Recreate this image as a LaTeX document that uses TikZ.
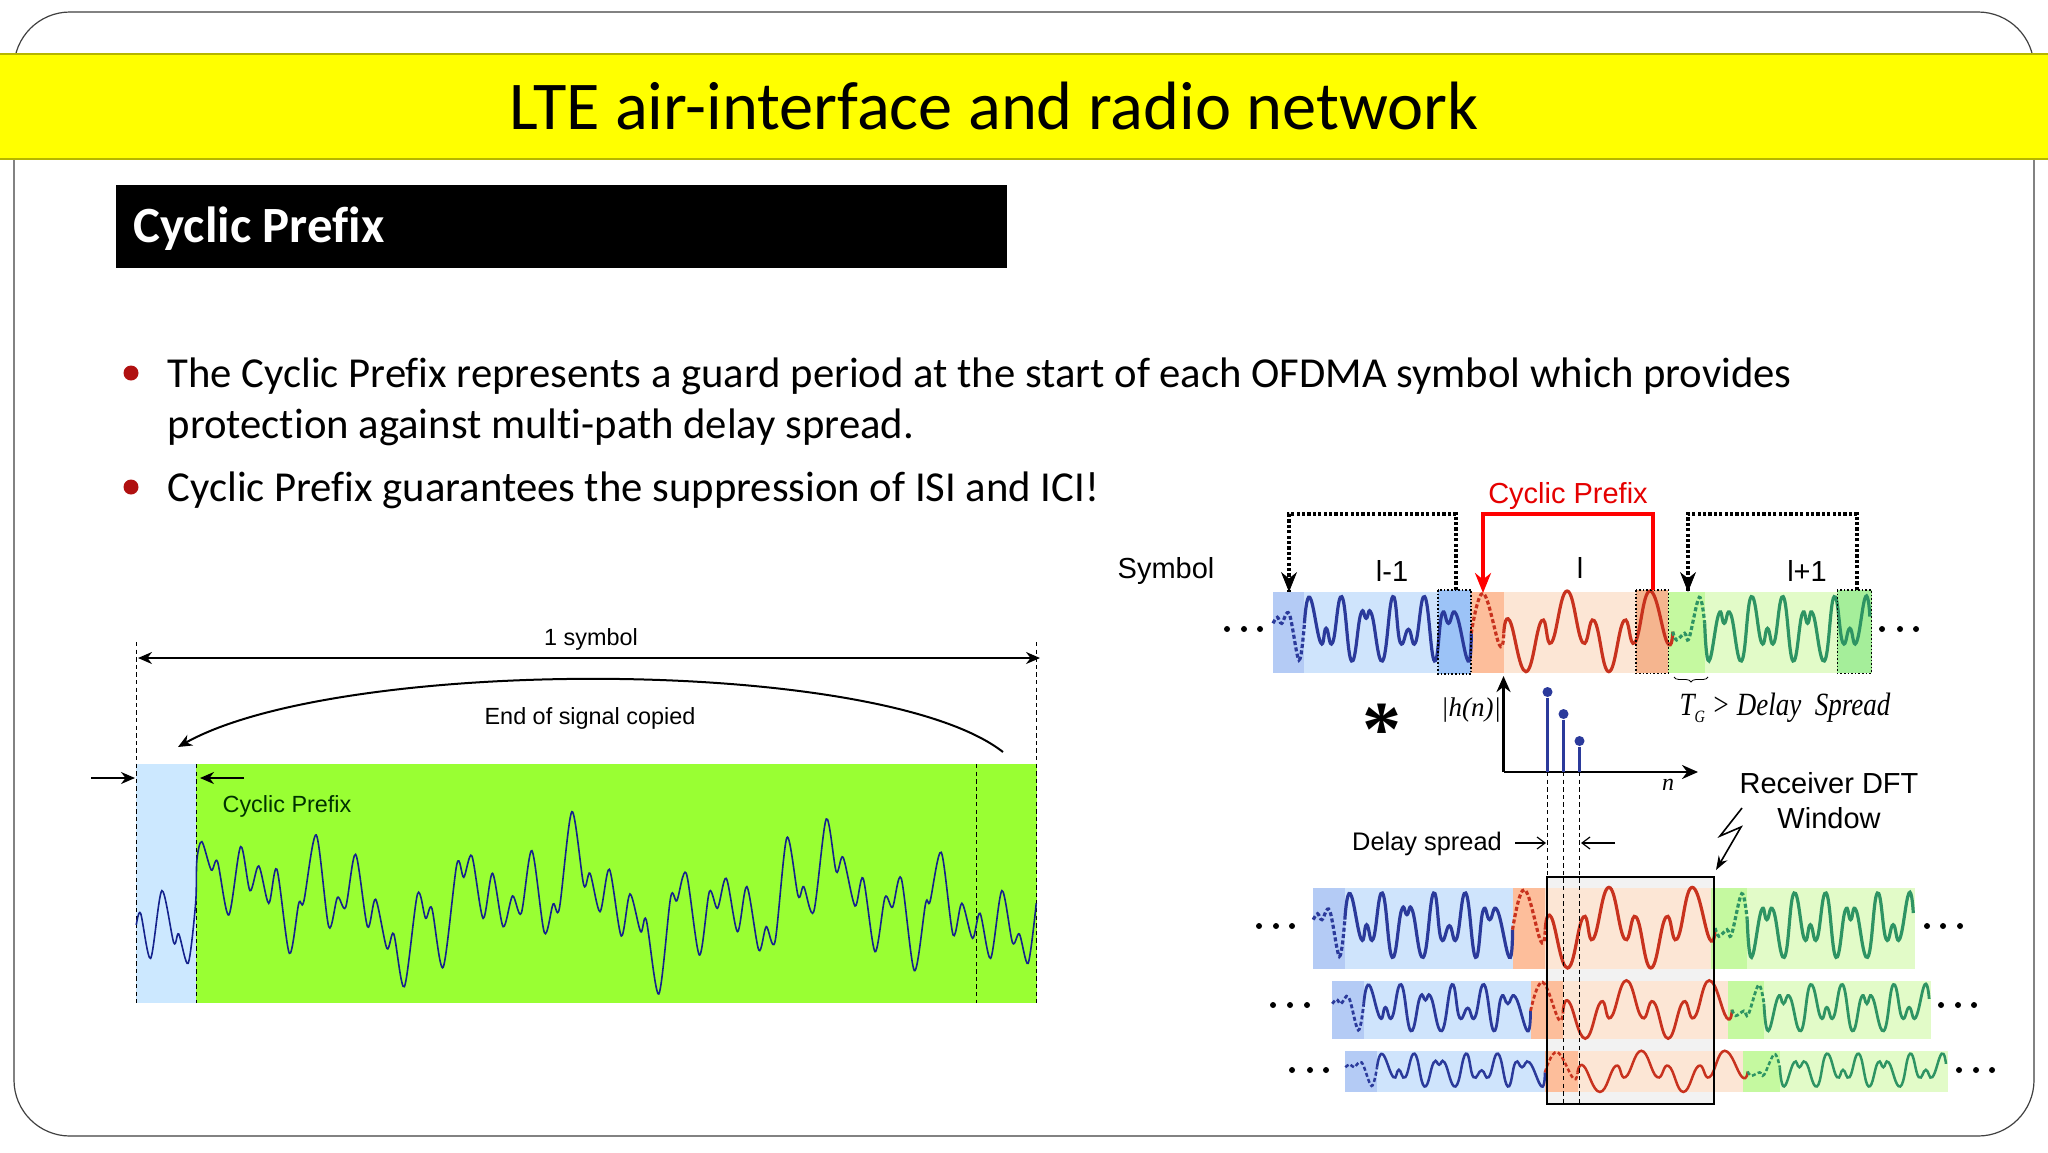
\documentclass[tikz,border=0pt]{standalone}
\usepackage{fontspec}
\setmainfont[Ligatures=NoCommon]{Carlito}
\newfontfamily\arialfont{Liberation Sans}
\newfontfamily\timesfont{Liberation Serif}
\usetikzlibrary{arrows, arrows.meta, calc, decorations.pathreplacing}

\definecolor{bluelight}{HTML}{CFE4FC}
\definecolor{bluedark}{HTML}{B4CBF5}
\definecolor{bluebox}{HTML}{9CC3F7}
\definecolor{bluewave}{HTML}{2B3A9B}
\definecolor{chartwave}{HTML}{14228C}
\definecolor{orangelight}{HTML}{FCE6D5}
\definecolor{orangedark}{HTML}{FDBE9B}
\definecolor{orangebox}{HTML}{F5B58F}
\definecolor{redwave}{HTML}{C8321E}
\definecolor{greenlight}{HTML}{E2FBC8}
\definecolor{greendark}{HTML}{C5F9A0}
\definecolor{greenbox}{HTML}{A5EE9A}
\definecolor{greenwave}{HTML}{2E9463}
\definecolor{chartgreen}{HTML}{99FF33}
\definecolor{chartblue}{HTML}{CCE8FF}
\definecolor{bannerfill}{RGB}{255,255,0}
\definecolor{bannerline}{HTML}{B5B500}
\definecolor{bulletred}{HTML}{B01010}

% one row of three symbols, in its own local units
\newcommand{\symrow}[2]{
    \fill[bluedark] (320,395) rectangle (378,638);
    \fill[bluelight] (378,395) rectangle (686,638);
    \fill[orangedark] (686,395) rectangle (746,638);
    \fill[orangelight] (746,395) rectangle (1050,638);
    \fill[greendark] (1050,395) rectangle (1117,638);
    \fill[greenlight] (1117,395) rectangle (1425,638);
    #2
    \draw[bluewave, line width=#1, dash pattern=on 2pt off 1.2pt] plot[smooth, tension=.6] coordinates {(320,490) (328,472) (336,490) (350,462) (368,600) (378,490)};
    \draw[bluewave, line width=#1] plot[smooth, tension=.8] coordinates {(378,490) (388,412) (408,548) (418,505) (430,548) (447,410) (465,603) (482,462) (492,475) (502,462) (522,603) (541,410) (555,548) (570,508) (583,548) (600,410) (618,603) (632,462) (644,490) (658,462) (680,603) (686,520)};
    \draw[redwave, line width=#1, dash pattern=on 2pt off 1.2pt] plot[smooth, tension=.7] coordinates {(686,520) (708,400) (738,555) (746,520)};
    \draw[redwave, line width=#1] plot[smooth, tension=.8] coordinates {(746,520) (757,482) (787,635) (816,482) (834,548) (863,393) (892,548) (913,482) (940,635) (968,482) (988,548) (1016,393) (1048,548) (1058,515)};
    \draw[greenwave, line width=#1, dash pattern=on 2pt off 1.2pt] plot[smooth, tension=.6] coordinates {(1058,515) (1065,540) (1080,520) (1088,535) (1107,412) (1117,490)};
    \draw[greenwave, line width=#1] plot[smooth, tension=.8] coordinates {(1117,490) (1125,603) (1143,462) (1153,490) (1165,462) (1185,603) (1203,410) (1222,548) (1233,505) (1245,548) (1262,410) (1280,603) (1297,462) (1307,490) (1317,462) (1338,603) (1356,410) (1372,548) (1385,505) (1397,548) (1414,410) (1422,470)};
}

\begin{document}
\begin{tikzpicture}[> = stealth, % arrow head style
                x = 0.5pt, y = -0.5pt, % one unit is one pixel of the slide
                semithick % line style
            ]

            \tikzset{
                sansnode/.style = {font = \arialfont\fontsize{14.5}{16}\selectfont, inner sep = 0pt},
                smallnode/.style = {font = \arialfont\fontsize{11.7}{13}\selectfont, inner sep = 0pt},
                bodynode/.style = {font = \fontsize{21.35}{25}\selectfont, anchor = base west, inner sep = 0pt},
                bulletdot/.style = {circle, fill = bulletred, inner sep = 0pt, minimum size = 7.5pt},
                symdot/.style = {circle, fill = black, inner sep = 0pt, minimum size = 3pt},
                dottedbox/.style = {draw = black, densely dotted, thick},
                dashedline/.style = {dashed, thin, dash pattern = on 2.2pt off 1.6pt},
                bracket/.style = {line width = 1.6pt, dash pattern = on 1.6pt off 1.1pt},
                chartarrow/.style = {line width = 1pt, >={Stealth[length=7pt,width=6pt]}},
                bigtip/.style = {-{Stealth[length=10pt,width=8pt]}},
                barbtip/.style = {-{Straight Barb[length=4pt,width=6pt]}, line width = 0.6pt}
            }

            \useasboundingbox (0,0) rectangle (2048,1152);
            \fill[white] (0,0) rectangle (2048,1152);
            \draw[black!75, line width = 0.6pt, rounded corners = 28pt] (14,12) rectangle (2034,1136);

            % title and heading
            \fill[bannerfill] (0,54) rectangle (2048,159);
            \draw[bannerline, line width = 0.6pt] (0,54) -- (2048,54) (0,159) -- (2048,159);
            \node (title) [font = \fontsize{34.2}{40}\selectfont, inner sep = 0pt] at (994,106) {LTE air-interface and radio network};
            \fill[black] (116,185) rectangle (1007,268);
            \node (heading) [font = \bfseries\fontsize{25.4}{30}\selectfont, text = white, anchor = west, inner sep = 0pt] at (133,229) {Cyclic Prefix};

            % bullets
            \node (b1) [bulletdot] at (131,373) {};
            \node (b2) [bulletdot] at (131,487) {};
            \node (line1) [bodynode] at (167,387) {The Cyclic Prefix represents a guard period at the start of each OFDMA symbol which provides};
            \node (line2) [bodynode] at (167,438) {protection against multi-path delay spread.};
            \node (line3) [bodynode] at (167,501) {Cyclic Prefix guarantees the suppression of ISI and ICI!};

            % left chart
            \fill[chartblue] (136,764) rectangle (196,1003);
            \fill[chartgreen] (196,764) rectangle (1037,1003);
            \coordinate (lefttop) at (136,642); \coordinate (leftbot) at (136,1003);
            \coordinate (righttop) at (1036,642); \coordinate (rightbot) at (1036,1003);
            \coordinate (cptop) at (196,764); \coordinate (cpbot) at (196,1003);
            \coordinate (endtop) at (976,764); \coordinate (endbot) at (976,1003);
            \draw[dashedline] (lefttop) -- (leftbot);
            \draw[dashedline] (righttop) -- (rightbot);
            \draw[dashedline] (cptop) -- (cpbot);
            \draw[dashedline] (endtop) -- (endbot);
            \coordinate (spanl) at (138,658); \coordinate (spanr) at (1040,658);
            \draw[<->, chartarrow] (spanl) -- (spanr);
            \node (span) [smallnode] at (591,639) {1 symbol};
            \coordinate (copyfrom) at (1003,752); \coordinate (copyto) at (178,747);
            \draw[->, chartarrow] (copyfrom) .. controls (880,656) and (340,656) .. (copyto);
            \node (copied) [smallnode] at (590,718) {End of signal copied};
            \coordinate (cpa) at (91,778); \coordinate (cpb) at (135,778);
            \coordinate (cpc) at (244,778); \coordinate (cpd) at (200,778);
            \draw[->, chartarrow] (cpa) -- (cpb);
            \draw[->, chartarrow] (cpc) -- (cpd);
            \node (cplabel) [smallnode, text = black!80!green] at (287,806) {Cyclic Prefix};
            \begin{scope}[shift = {(80,620)}, xscale = 0.625, yscale = 0.3333]
                \draw[chartwave, line width = 0.8pt] plot[smooth, tension = .5] coordinates {(90,915) (97,880) (113,1015) (131,812) (150,968) (158,942) (173,1030) (185,850) (187,720) (195,665) (210,750) (220,725) (238,885) (257,680) (272,812) (286,738) (302,850) (315,748) (335,1000) (350,850) (358,845) (378,645) (398,920) (412,832) (425,862) (441,703) (460,920) (473,838) (491,985) (502,942) (519,1100) (540,822) (553,895) (563,865) (581,1042) (603,732) (614,772) (627,708) (645,895) (660,760) (677,920) (692,828) (706,880) (723,692) (743,938) (757,852) (767,865) (787,575) (806,795) (816,760) (832,875) (847,748) (866,948) (880,822) (897,935) (906,900) (926,1122) (945,832) (955,842) (970,760) (991,1005) (1007,815) (1020,865) (1034,775) (1052,935) (1067,800) (1086,990) (1098,920) (1112,965) (1131,653) (1149,828) (1158,800) (1174,875) (1194,597) (1210,755) (1221,712) (1240,858) (1253,775) (1272,995) (1288,832) (1300,862) (1314,775) (1335,1052) (1353,850) (1360,845) (1378,697) (1397,945) (1411,850) (1428,955) (1440,880) (1457,1015) (1475,812) (1492,968) (1503,942) (1517,1030) (1530,850)};
            \end{scope}

            % transmitted symbols
            \begin{scope}[shift = {(1099.7,460)}, xscale = 0.5416, yscale = 0.3333]
                \symrow{1.6pt}{
                    \fill[bluebox] (625,390) rectangle (686,642);
                    \fill[orangebox] (990,390) rectangle (1050,640);
                    \fill[greenbox] (1362,390) rectangle (1425,640);
                }
                \draw[dottedbox] (625,390) rectangle (686,642);
                \draw[dottedbox] (990,390) rectangle (1050,640);
                \draw[dottedbox] (1362,390) rectangle (1425,640);
            \end{scope}

            \node (symbol) [sansnode] at (1166,571) {Symbol};
            \node (lm) [sansnode] at (1392,571) {l-1};
            \node (lc) [sansnode] at (1580,568) {l};
            \node (lp) [sansnode] at (1807,571) {l+1};
            \node (redcp) [sansnode, text = red!90!black] at (1568,496) {Cyclic Prefix};

            \coordinate (aa) at (1456,590); \coordinate (ab) at (1456,514); \coordinate (ac) at (1289,514); \coordinate (ad) at (1289,592);
            \coordinate (ba) at (1653,590); \coordinate (bb) at (1653,514); \coordinate (bc) at (1483,514); \coordinate (bd) at (1483,593);
            \coordinate (ca) at (1857,590); \coordinate (cb) at (1857,514); \coordinate (cc) at (1688,514); \coordinate (cd) at (1688,592);
            \draw[bracket] (aa) -- (ab) -- (ac) -- (ad);
            \draw[bigtip, thin] ($(ad)+(0,-14)$) -- (ad);
            \draw[red, line width = 1.6pt, bigtip] (ba) -- (bb) -- (bc) -- (bd);
            \draw[bracket] (ca) -- (cb) -- (cc) -- (cd);
            \draw[bigtip, thin] ($(cd)+(0,-14)$) -- (cd);

            % dots beside the rows
            \foreach \px/\py in {1227/629, 1244/629, 1260/629, 1882/629, 1900/629, 1916/629,
                                 1259/926, 1276/926, 1292/926, 1927/926, 1943/926, 1960/926,
                                 1273/1005, 1290/1005, 1307/1005, 1941/1005, 1958/1005, 1974/1005,
                                 1292/1070, 1310/1070, 1326/1070, 1959/1070, 1976/1070, 1992/1070}
                \node[symdot] at (\px,\py) {};

            % channel response
            \coordinate (orig) at (1503.5,772); \coordinate (yend) at (1503.5,676); \coordinate (xend) at (1698,772);
            \draw[->, >={Stealth[length=8pt,width=7pt]}, line width = 1.4pt] (orig) -- (yend);
            \draw[->, >={Stealth[length=8pt,width=7pt]}, line width = 1.4pt] (orig) -- (xend);
            \foreach \name/\sx/\sy in {s1/1547.5/692, s2/1563.5/714, s3/1579.5/741} {
                \node (\name) [circle, fill = bluewave, inner sep = 0pt, minimum size = 5pt] at (\sx,\sy) {};
                \draw[bluewave, line width = 1.3pt] (\name) -- (\sx,772);
            }
            \node (star) [font = \timesfont\bfseries\fontsize{39}{39}\selectfont, inner sep = 0pt] at (1382,730) {*};
            \node (hn) [font = \timesfont\itshape\fontsize{13.5}{15}\selectfont, inner sep = 0pt] at (1471,710) {|h(n)|};
            \node (nlabel) [font = \timesfont\itshape\fontsize{12}{14}\selectfont, inner sep = 0pt] at (1668,785) {n};
            \node (guard) [font = \timesfont\itshape\fontsize{15}{17}\selectfont, inner sep = 0pt] at (1785,708) {\scalebox{.9}[1.08]{T\raisebox{-3pt}{\fontsize{8}{8}\selectfont G} > Delay\ \ Spread}};
            \coordinate (bracel) at (1674,677); \coordinate (bracer) at (1708,677);
            \draw[decorate, decoration = {brace, mirror, amplitude = 2.5pt}, thin] (bracel) -- (bracer);

            % received rows
            \fill[black!5] (1547,877) rectangle (1714,1104);
            \begin{scope}[shift = {(1139,927)}, xscale = 0.5445, yscale = 0.3333, shift = {(0,-512)}]
                \symrow{1.6pt}{}
            \end{scope}
            \begin{scope}[shift = {(1159,1009)}, xscale = 0.5416, yscale = 0.24, shift = {(0,-512)}]
                \symrow{1.4pt}{}
            \end{scope}
            \begin{scope}[shift = {(1171,1071)}, xscale = 0.545, yscale = 0.17, shift = {(0,-512)}]
                \symrow{1.25pt}{}
            \end{scope}

            % receiver window
            \node (window) [draw = black, line width = 1.4pt, inner sep = 0pt, minimum width = 83.5pt, minimum height = 113.5pt] at (1630.5,990.5) {};
            \coordinate (d1) at (1547.5,772); \coordinate (d1b) at (1547.5,877);
            \coordinate (d2) at (1563.5,772); \coordinate (d2b) at (1563.5,1104);
            \coordinate (d3) at (1579.5,772); \coordinate (d3b) at (1579.5,1104);
            \draw[dashedline] (d1) -- (d1b);
            \draw[dashedline] (d2) -- (d2b);
            \draw[dashedline] (d3) -- (d3b);

            \node (delay) [font = \arialfont\fontsize{12.7}{14}\selectfont, inner sep = 0pt] at (1427,844) {Delay spread};
            \coordinate (da) at (1515,843); \coordinate (db) at (1546,843);
            \coordinate (dc) at (1615,843); \coordinate (dd) at (1581,843);
            \draw[barbtip] (da) -- (db);
            \draw[barbtip] (dc) -- (dd);

            \node (rx1) [sansnode] at (1829,783) {Receiver DFT};
            \node (rx2) [sansnode] at (1829,818) {Window};
            \coordinate (za) at (1742,808); \coordinate (zb) at (1720,836); \coordinate (zc) at (1741,827); \coordinate (zd) at (1716,870);
            \draw[->, >={Stealth[length=7pt,width=5pt]}, line width = 0.8pt] (za) -- (zb) -- (zc) -- (zd);
        \end{tikzpicture}
\end{document}
